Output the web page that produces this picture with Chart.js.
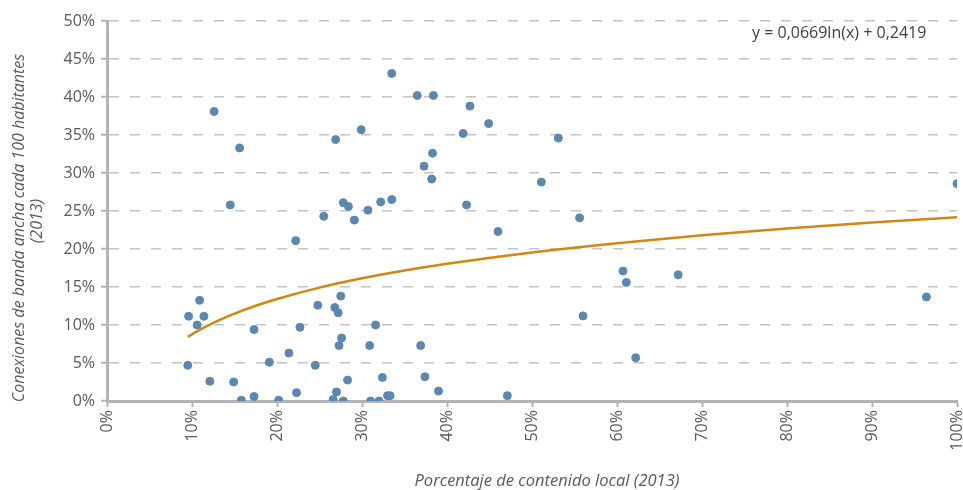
<!DOCTYPE html>
<html>
<head>
<meta charset="utf-8">
<script src="https://cdn.jsdelivr.net/npm/chart.js@4/dist/chart.umd.min.js"></script>
<style>
html,body{margin:0;padding:0;background:#fff;}
canvas{display:block;}
</style>
</head>
<body>
<canvas id="c" width="963" height="490"></canvas>
<script>
// Porcentaje de contenido local (2013), %
const localContent = [12.6,15.6,26.9,14.5,27.8,25.5,22.2,10.9,9.6,11.4,10.6,17.3,22.7,24.8,26.8,27.2,27.5,27.6,27.3,9.5,19.1,21.4,24.5,12.1,14.9,28.3,17.3,15.8,20.2,22.3,27.0,26.6,27.8,33.5,36.5,38.4,42.7,44.9,41.9,29.9,38.3,37.3,38.2,51.1,28.4,30.7,32.2,33.5,42.3,29.1,46.0,31.6,30.9,36.9,32.4,37.4,39.0,47.1,33.0,33.3,31.0,32.0,53.1,100,55.6,60.7,61.1,67.2,96.4,56.0,62.2];
// Conexiones de banda ancha cada 100 habitantes (2013), %
const broadband = [38.1,33.3,34.4,25.8,26.1,24.3,21.1,13.25,11.15,11.15,10.0,9.4,9.7,12.6,12.3,11.6,13.8,8.3,7.3,4.7,5.1,6.3,4.7,2.6,2.5,2.75,0.6,0.1,0.1,1.1,1.2,0.2,0.0,43.1,40.2,40.2,38.8,36.5,35.2,35.7,32.6,30.9,29.2,28.8,25.6,25.1,26.2,26.5,25.8,23.8,22.3,10.0,7.3,7.3,3.1,3.2,1.3,0.7,0.7,0.7,0.0,0.0,34.6,28.6,24.1,17.1,15.6,16.6,13.7,11.2,5.7];
// Logarithmic trend line (y = 0,0669ln(x) + 0,2419), sampled points in %
const trendX = [9.5,11,13,15,17.5,20,25,30,35,40,50,60,70,80,90,100];
const trendY = [8.44,9.42,10.54,11.50,12.53,13.42,14.92,16.14,17.17,18.06,19.55,20.77,21.80,22.70,23.49,24.19];
// Tick labels
const xTicks = [0,10,20,30,40,50,60,70,80,90,100];
const equationText = 'y = 0,0669ln(x) + 0,2419';
const xTitle = 'Porcentaje de contenido local (2013)';
const yTitle = ['Conexiones de banda ancha cada 100 habitantes', '(2013)'];

const FONT = "'Open Sans', 'Noto Sans', sans-serif";
const GRAY = '#595959';
const AXIS = '#b4b4b8';

const scatterPts = localContent.map((x, i) => ({x: x, y: broadband[i]}));
const trendPts = trendX.map((x, i) => ({x: x, y: trendY[i]}));

const overlay = {
  id: 'overlay',
  afterDraw(chart) {
    const ctx = chart.ctx;
    const xs = chart.scales.x;
    const ys = chart.scales.y;
    ctx.save();
    ctx.fillStyle = GRAY;
    ctx.font = '16px ' + FONT;
    ctx.textAlign = 'right';
    ctx.textBaseline = 'middle';
    xTicks.forEach(v => {
      const px = xs.getPixelForValue(v);
      ctx.save();
      ctx.translate(px, ys.bottom + 9);
      ctx.rotate(-Math.PI / 2);
      ctx.fillText(v + '%', 0, 0);
      ctx.restore();
    });
    // axis titles
    ctx.textAlign = 'center';
    ctx.font = 'italic 16.5px ' + FONT;
    ctx.fillText(xTitle, 547, 481);
    ctx.font = 'italic 16px ' + FONT;
    const yCenters = [[19, 228], [37, 221]];
    yTitle.forEach((line, i) => {
      ctx.save();
      ctx.translate(yCenters[i][0], yCenters[i][1]);
      ctx.rotate(-Math.PI / 2);
      ctx.fillText(line, 0, 0);
      ctx.restore();
    });
    ctx.fillStyle = '#404040';
    ctx.textAlign = 'left';
    ctx.font = '16px ' + FONT;
    ctx.fillText(equationText, 752, 33);
    ctx.restore();
  }
};

new Chart(document.getElementById('c'), {
  type: 'scatter',
  data: {
    datasets: [
      {
        type: 'line',
        data: trendPts,
        borderColor: '#d4870f',
        borderWidth: 2.5,
        pointRadius: 0,
        showLine: true,
        fill: false,
        cubicInterpolationMode: 'monotone',
        order: 1
      },
      {
        data: scatterPts,
        backgroundColor: '#5b87b3',
        borderColor: '#5b87b3',
        borderWidth: 1,
        pointRadius: 4,
        pointHoverRadius: 4,
        order: 2
      }
    ]
  },
  options: {
    responsive: false,
    animation: false,
    devicePixelRatio: 1,
    layout: {padding: {left: 0, right: 6, top: 21, bottom: 0}},
    plugins: {legend: {display: false}, tooltip: {enabled: false}},
    scales: {
      x: {
        type: 'linear',
        min: 0, max: 100,
        ticks: {display: false, stepSize: 10},
        grid: {display: true, drawOnChartArea: false, drawTicks: true, tickLength: 6, tickColor: AXIS, tickWidth: 2},
        border: {display: true, color: AXIS, width: 3},
        title: {display: false},
        afterFit(s) { s.height = 89; }
      },
      y: {
        min: 0, max: 50,
        ticks: {stepSize: 5, color: GRAY, font: {family: FONT, size: 16}, padding: 6, callback: v => v + '%'},
        grid: {color: '#c4c4c4', lineWidth: 1.5, drawTicks: true, tickLength: 6, tickColor: AXIS, tickWidth: 2},
        border: {display: true, color: AXIS, width: 3, dash: [10, 11]},
        title: {display: false},
        afterFit(s) { s.width = 107; }
      }
    }
  },
  plugins: [overlay]
});
</script>
</body>
</html>
